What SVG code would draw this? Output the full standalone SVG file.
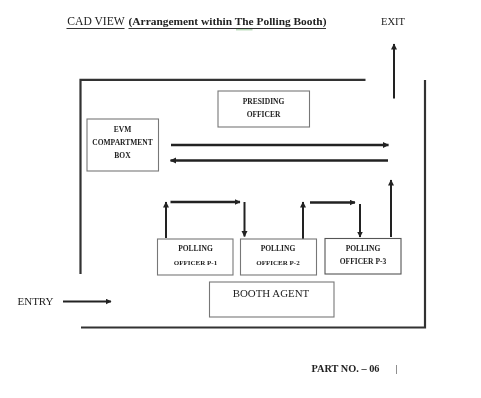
<svg xmlns="http://www.w3.org/2000/svg" width="481" height="398" viewBox="0 0 481 398">
<style>
text{font-family:"Liberation Serif","Times New Roman",serif;fill:#222;text-anchor:middle}
.b{font-weight:bold;font-size:7.5px}
.box{fill:#fff;stroke:#777;stroke-width:1.1}
.wall{fill:none;stroke:#333;stroke-width:2.2}
.c{fill:none;stroke:#222;stroke-width:2;marker-end:url(#a)}
.c2{fill:none;stroke:#222;stroke-width:2.6;marker-end:url(#a)}
</style>
<defs>
<marker id="a" markerUnits="userSpaceOnUse" markerWidth="7" markerHeight="7" refX="5.5" refY="3" orient="auto"><path d="M0,0L6,3L0,6z" fill="#222"/></marker>
<filter id="s" x="-5%" y="-5%" width="110%" height="110%"><feGaussianBlur stdDeviation="0.55"/></filter>
</defs>
<rect width="481" height="398" fill="#fff"/>
<g filter="url(#s)">
<g id="title">
<text x="96" y="24.500" style="font-size:11.600px">CAD VIEW</text>
<text x="227.500" y="24.500" style="font-size:11.400px;font-weight:bold">(Arrangement within The Polling Booth)</text>
<path d="M66.500 28.500H124.500M128.500 28.500H326" stroke="#333" stroke-width="1.200" fill="none"/>
<path d="M236 29.800H252.500" stroke="#7fbf7f" stroke-width="0.800" fill="none"/>
</g>
<g id="connectors">
<path class="wall" d="M365.500 79.800H80.500V274"/>
<path class="wall" d="M425 80V327.500H81"/>
<path class="c" d="M394 98.500V44"/>
<path class="c2" d="M171 145H388.500"/>
<path class="c2" d="M388 160.500H170.500"/>
<path class="c" d="M391 237V180"/>
<path class="c" d="M166 238V202"/>
<path class="c2" d="M170.500 202H240"/>
<path class="c" d="M244.500 202V236.500"/>
<path class="c" d="M303 239V202"/>
<path class="c2" d="M310 202.500H355"/>
<path class="c" d="M360 204V237"/>
<path class="c" d="M63 301.500H111"/>
</g>
<g id="presiding-officer">
<rect class="box" x="218" y="91" width="91.500" height="36"/>
<text class="b" x="263.500" y="103.500">PRESIDING</text>
<text class="b" x="263.500" y="117">OFFICER</text>
</g>
<g id="evm-box">
<rect class="box" x="87" y="119" width="71.500" height="52"/>
<text class="b" x="122.500" y="132">EVM</text>
<text class="b" x="122.500" y="145">COMPARTMENT</text>
<text class="b" x="122.500" y="158">BOX</text>
</g>
<g id="p1">
<rect class="box" x="157.500" y="239" width="75.500" height="36"/>
<text class="b" x="195.500" y="250.500">POLLING</text>
<text class="b" x="195.500" y="264.500" style="font-size:7px">OFFICER P-1</text>
</g>
<g id="p2">
<rect class="box" x="240.500" y="239" width="76" height="36"/>
<text class="b" x="278" y="250.500">POLLING</text>
<text class="b" x="278" y="264.500" style="font-size:7px">OFFICER P-2</text>
</g>
<g id="p3">
<rect class="box" x="325" y="238.500" width="76" height="35.500" style="stroke:#555"/>
<text class="b" x="363" y="250.500">POLLING</text>
<text class="b" x="363" y="263.500" style="font-size:7.500px">OFFICER P-3</text>
</g>
<g id="booth-agent">
<rect class="box" x="209.500" y="282" width="124.500" height="35"/>
<text x="271" y="297" style="font-size:10.900px">BOOTH AGENT</text>
</g>
<g id="labels">
<text x="393" y="24.500" style="font-size:10.500px">EXIT</text>
<text x="35.500" y="305" style="font-size:11px">ENTRY</text>
<text x="345.500" y="372" style="font-size:10.300px;font-weight:bold">PART NO. – 06</text>
<text x="396.500" y="372" style="font-size:10px">|</text>
</g>
</g>
</svg>
